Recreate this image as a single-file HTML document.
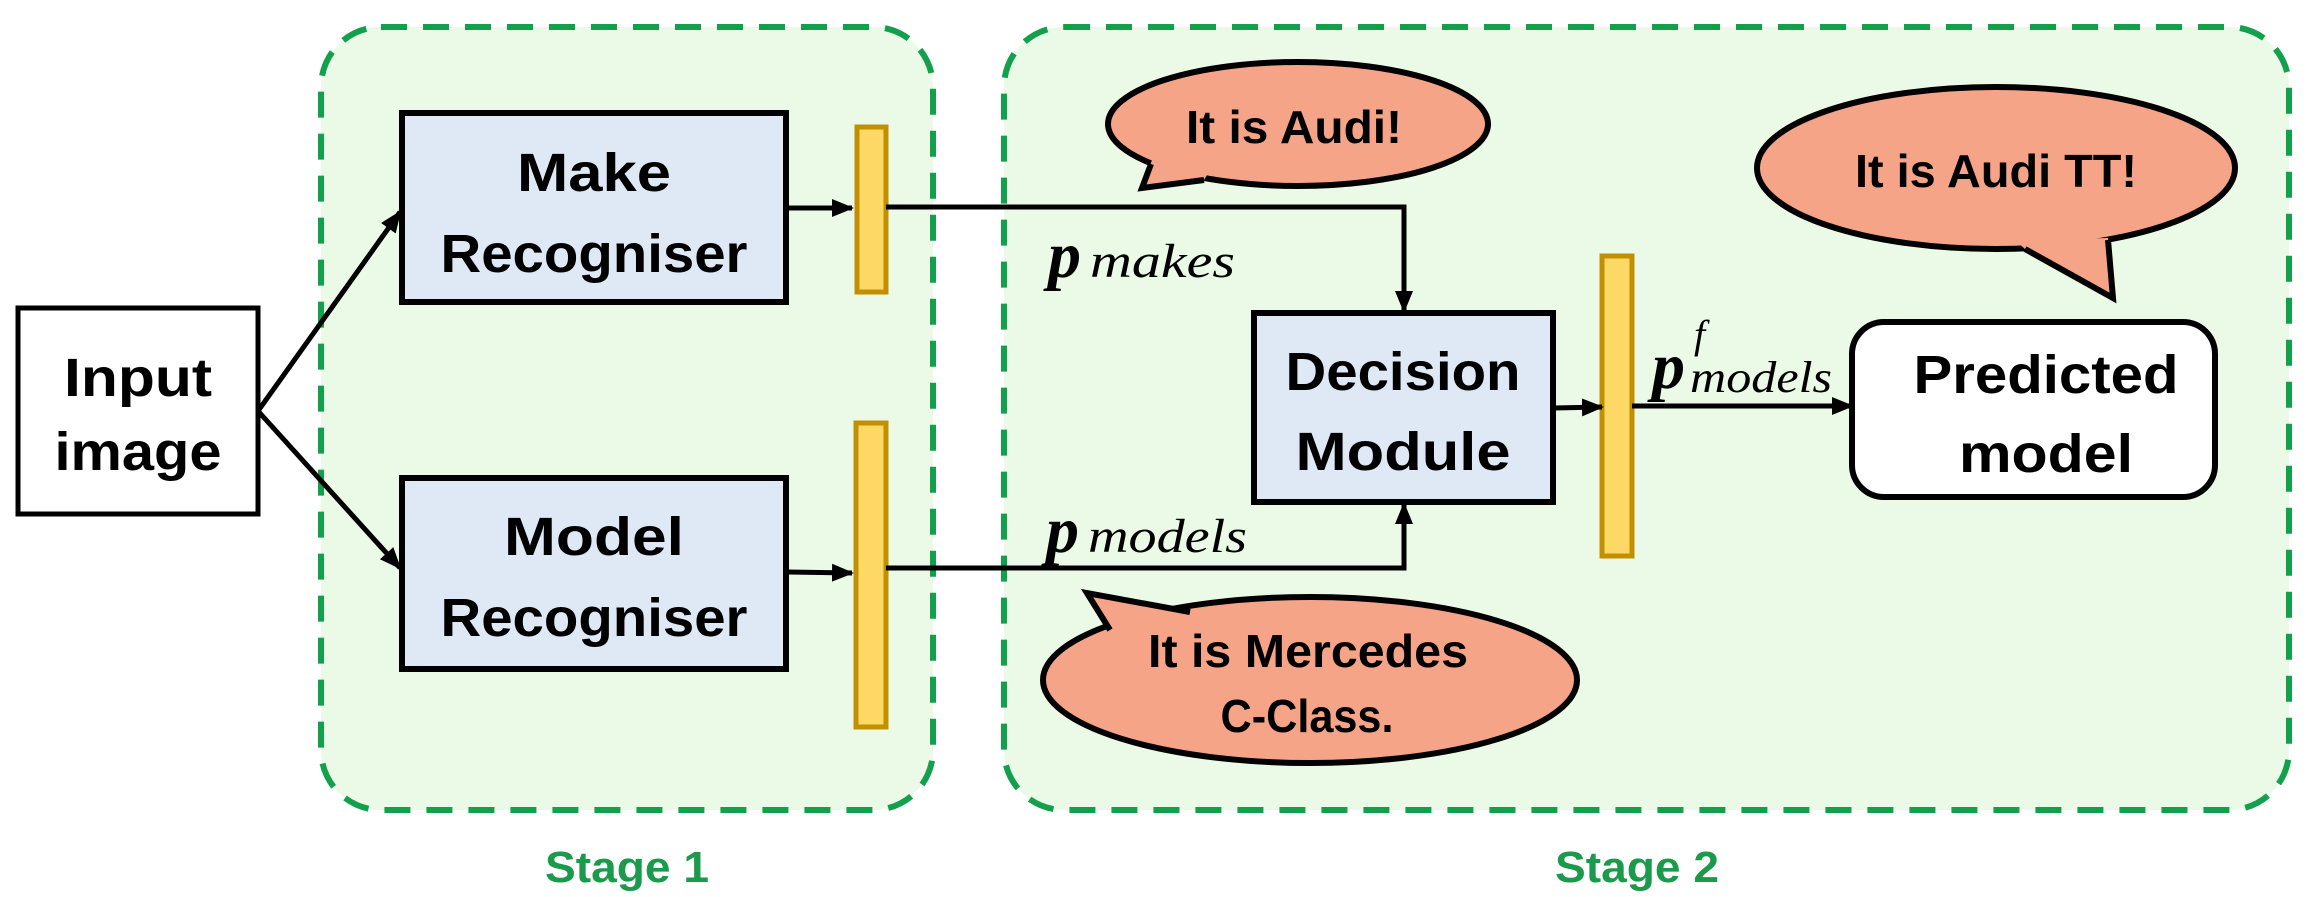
<!DOCTYPE html>
<html><head><meta charset="utf-8"><style>
html,body{margin:0;padding:0;background:#fff;width:2308px;height:897px;overflow:hidden}
svg{display:block}
.t{font-family:"Liberation Sans",sans-serif;font-weight:bold;font-size:54px;fill:#000;text-anchor:middle}
.b{font-family:"Liberation Sans",sans-serif;font-weight:bold;font-size:46px;fill:#000;text-anchor:middle}
.s{font-family:"Liberation Sans",sans-serif;font-weight:bold;font-size:44px;fill:#1a9a4a;text-anchor:middle}
.m{font-family:"Liberation Serif",serif;font-style:italic;fill:#000}
</style></head><body>
<svg width="2308" height="897" viewBox="0 0 2308 897" xmlns="http://www.w3.org/2000/svg">
<defs>
<marker id="a2" markerWidth="22" markerHeight="22" refX="20" refY="11" orient="auto" markerUnits="userSpaceOnUse" viewBox="0 0 22 22">
<path d="M0,2 L22,11 L0,20 z" fill="#000"/></marker>
</defs>
<rect x="321" y="27" width="612" height="783" rx="60" fill="#ebfae6" stroke="#12a04c" stroke-width="6" stroke-dasharray="26,16"/>
<rect x="1004" y="27" width="1285" height="783" rx="60" fill="#ebfae6" stroke="#12a04c" stroke-width="6" stroke-dasharray="26,16"/>
<text x="627" y="882" class="s" textLength="164" lengthAdjust="spacingAndGlyphs">Stage 1</text>
<text x="1637" y="882" class="s" textLength="164" lengthAdjust="spacingAndGlyphs">Stage 2</text>

<rect x="18" y="308" width="240" height="206" fill="#fff" stroke="#000" stroke-width="5"/>
<text x="138" y="396" class="t" textLength="148" lengthAdjust="spacingAndGlyphs">Input</text>
<text x="138" y="470" class="t" textLength="167" lengthAdjust="spacingAndGlyphs">image</text>

<line x1="258" y1="411" x2="400" y2="212" stroke="#000" stroke-width="5" marker-end="url(#a2)"/>
<line x1="258" y1="411" x2="400" y2="568" stroke="#000" stroke-width="5" marker-end="url(#a2)"/>

<rect x="402" y="113" width="384" height="189" fill="#dee9f5" stroke="#000" stroke-width="6"/>
<text x="594" y="191" class="t" textLength="154" lengthAdjust="spacingAndGlyphs">Make</text>
<text x="594" y="272" class="t" textLength="307" lengthAdjust="spacingAndGlyphs">Recogniser</text>
<rect x="402" y="478" width="384" height="191" fill="#dee9f5" stroke="#000" stroke-width="6"/>
<text x="594" y="555" class="t" textLength="180" lengthAdjust="spacingAndGlyphs">Model</text>
<text x="594" y="636" class="t" textLength="307" lengthAdjust="spacingAndGlyphs">Recogniser</text>

<line x1="788" y1="208" x2="852" y2="208" stroke="#000" stroke-width="5" marker-end="url(#a2)"/>
<line x1="788" y1="572" x2="852" y2="573" stroke="#000" stroke-width="5" marker-end="url(#a2)"/>

<rect x="857" y="127" width="29" height="165" fill="#fdd865" stroke="#c09000" stroke-width="5"/>
<rect x="856" y="423" width="30" height="304" fill="#fdd865" stroke="#c09000" stroke-width="5"/>
<rect x="1602" y="256" width="30" height="300" fill="#fdd865" stroke="#c09000" stroke-width="5"/>

<polyline points="886,207 1404,207 1404,311" fill="none" stroke="#000" stroke-width="5" marker-end="url(#a2)"/>
<polyline points="886,568 1404,568 1404,504" fill="none" stroke="#000" stroke-width="5" marker-end="url(#a2)"/>
<line x1="1554" y1="408" x2="1602" y2="407" stroke="#000" stroke-width="5" marker-end="url(#a2)"/>
<line x1="1632" y1="406" x2="1852" y2="406" stroke="#000" stroke-width="5" marker-end="url(#a2)"/>

<rect x="1254" y="313" width="299" height="189" fill="#dee9f5" stroke="#000" stroke-width="6"/>
<text x="1403" y="390" class="t" textLength="235" lengthAdjust="spacingAndGlyphs">Decision</text>
<text x="1403" y="470" class="t" textLength="215" lengthAdjust="spacingAndGlyphs">Module</text>

<rect x="1852" y="322" width="363" height="175" rx="32" fill="#fff" stroke="#000" stroke-width="6"/>
<text x="2046" y="393" class="t" textLength="265" lengthAdjust="spacingAndGlyphs">Predicted</text>
<text x="2046" y="472" class="t" textLength="174" lengthAdjust="spacingAndGlyphs">model</text>

<text x="1048" y="277" class="m" style="font-size:66px;font-weight:bold">p</text>
<text x="1090" y="277" class="m" style="font-size:48px" textLength="145" lengthAdjust="spacingAndGlyphs">makes</text>
<text x="1046" y="552" class="m" style="font-size:66px;font-weight:bold">p</text>
<text x="1088" y="552" class="m" style="font-size:48px" textLength="159" lengthAdjust="spacingAndGlyphs">models</text>
<text x="1652" y="388" class="m" style="font-size:66px;font-weight:bold">p</text>
<text x="1694" y="348" class="m" style="font-size:40px">f</text>
<text x="1690" y="392" class="m" style="font-size:44px" textLength="142" lengthAdjust="spacingAndGlyphs">models</text>

<!-- bubbles -->
<ellipse cx="1298" cy="124" rx="190" ry="62" fill="#f5a488" stroke="#000" stroke-width="6"/>
<polygon points="1152,160 1142,188 1204,180 1210,170" fill="#f5a488"/>
<polyline points="1151,164 1142,188 1204,180" fill="none" stroke="#000" stroke-width="6"/>
<text x="1294" y="143" class="b" textLength="216" lengthAdjust="spacingAndGlyphs">It is Audi!</text>

<ellipse cx="1996" cy="168" rx="239" ry="81" fill="#f5a488" stroke="#000" stroke-width="6"/>
<polygon points="2015,240 2025,249 2113,298 2108,238" fill="#f5a488"/>
<polyline points="2025,249 2113,298 2108,240" fill="none" stroke="#000" stroke-width="6"/>
<text x="1996" y="187" class="b" textLength="282" lengthAdjust="spacingAndGlyphs">It is Audi TT!</text>

<ellipse cx="1310" cy="680" rx="267" ry="83" fill="#f5a488" stroke="#000" stroke-width="6"/>
<polygon points="1115,640 1110,630 1087,593 1190,612 1195,625" fill="#f5a488"/>
<polyline points="1110,630 1087,593 1190,612" fill="none" stroke="#000" stroke-width="6"/>
<text x="1308" y="667" class="b" textLength="320" lengthAdjust="spacingAndGlyphs">It is Mercedes</text>
<text x="1307" y="732" class="b" textLength="173" lengthAdjust="spacingAndGlyphs">C-Class.</text>
</svg>
</body></html>
